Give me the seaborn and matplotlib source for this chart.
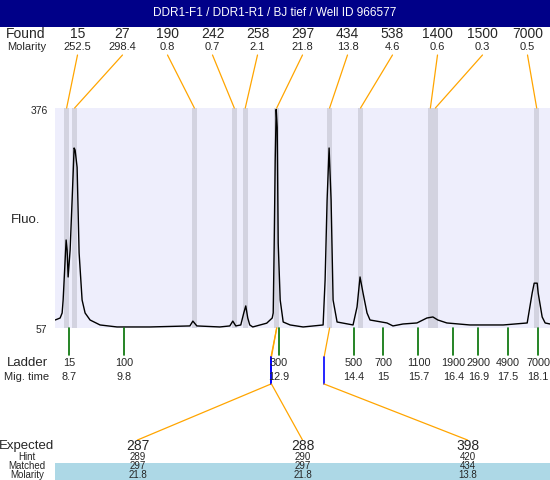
import pandas as pd
import seaborn as sns
import matplotlib.pyplot as plt

# Chart data
title = "DDR1-F1 / DDR1-R1 / BJ tief / Well ID 966577"

found_size = [15, 27, 190, 242, 258, 297, 434, 538, 1400, 1500, 7000]
found_molarity = ["252.5", "298.4", "0.8", "0.7", "2.1", "21.8", "13.8", "4.6", "0.6", "0.3", "0.5"]
found_time = [8.65, 8.81, 11.21, 12.01, 12.23, 12.86, 13.92, 14.54, 15.94, 16.04, 18.07]

ladder_size = [15, 100, 300, 500, 700, 1100, 1900, 2900, 4900, 7000]
ladder_time = [8.7, 9.8, 12.9, 14.4, 15, 15.7, 16.4, 16.9, 17.5, 18.1]

expected = [287, 288, 398]
expected_time = [12.745, 12.755, 13.81]
expected_hint = [289, 290, 420]
matched_size = [297, 297, 434]
matched_molarity = ["21.8", "21.8", "13.8"]

trace_time = [8.42, 8.52, 8.56, 8.58, 8.62, 8.64, 8.66, 8.68, 8.72, 8.76, 8.80, 8.82,
              8.86, 8.90, 8.96, 9.02, 9.12, 9.32, 9.66, 10.32, 11.12, 11.18, 11.26,
              11.72, 11.92, 11.98, 12.04, 12.14, 12.20, 12.24, 12.28, 12.32, 12.38,
              12.66, 12.77, 12.79, 12.81, 12.83, 12.85, 12.87, 12.89, 12.93, 12.99,
              13.13, 13.39, 13.79, 13.83, 13.87, 13.91, 13.95, 13.99, 14.07, 14.39,
              14.47, 14.53, 14.59, 14.67, 14.73, 15.07, 15.19, 15.39, 15.67, 15.87,
              15.99, 16.09, 16.27, 16.73, 17.40, 17.88, 17.98, 18.02, 18.08, 18.10,
              18.18, 18.24, 18.34]
trace_fluo = [68.6, 71.5, 78.8, 97.6, 155.6, 184.6, 170, 131, 170, 242.6, 318, 315,
              290, 166, 97.6, 78.8, 68.6, 61.4, 58.5, 58.5, 60, 67, 60,
              58.5, 60, 67, 60, 61.4, 78.8, 89, 71.5, 61.4, 58.5,
              64, 71.5, 78.8, 180, 300, 374, 348, 180, 97.6, 65.7,
              61.4, 58.5, 61.4, 126.6, 242.6, 318, 242.6, 97.6, 65.7, 61.4,
              87.5, 131, 107.8, 78.8, 68.6, 64.3, 60, 62.8, 64.3, 71.5,
              73, 68.6, 64.3, 61.4, 61.4, 64.3, 107.8, 122, 122, 107.8,
              73, 64.3, 62.8]

df = pd.DataFrame({"time": trace_time, "fluo": trace_fluo})

W, H = 550, 480
FONT = ["Liberation Sans", "DejaVu Sans"]
ORANGE = "#FFA500"

sns.set_theme(style="white")
plt.rcParams["font.family"] = FONT

fig = plt.figure(figsize=(W / 100, H / 100), dpi=100)
fig.patch.set_facecolor("white")

# plot area in pixel box (55..550, 108..328)
left, top, right, bottom = 55, 108, 550, 328
ax = fig.add_axes([left / W, 1 - bottom / H, (right - left) / W, (bottom - top) / H])
ax.set_facecolor("#EEEEFC")
for t in found_time:
    ax.axvspan(t - 0.05, t + 0.05, color="#D3D3E0", lw=0, zorder=1)
sns.lineplot(data=df, x="time", y="fluo", ax=ax, color="black", lw=1.0, zorder=3)
ax.set_xlim(8.417, 18.337)
ax.set_ylim(57, 376)
ax.set_xlabel("")
ax.set_ylabel("")
ax.set_xticks([])
ax.set_yticks([])
for s in ax.spines.values():
    s.set_visible(False)

# overlay in pixel coordinates
ov = fig.add_axes([0, 0, 1, 1])
ov.set_xlim(0, W)
ov.set_ylim(H, 0)
ov.axis("off")


def px(t):
    return ax.transData.transform((t, 57))[0]


# title bar
ov.add_patch(plt.Rectangle((0, 0), W, 27, color="#000088", lw=0))
ov.text(W / 2, 13.5, title, color="white", fontsize=8.5, ha="center", va="center")

# found row
ov.text(26, 34, "Found", fontsize=10, ha="center", va="center")
ov.text(27, 47, "Molarity", fontsize=8, ha="center", va="center")
col = (right - left) / len(found_size)
for i, (sz, mol, t) in enumerate(zip(found_size, found_molarity, found_time)):
    cx = left + col * (i + 0.5)
    ov.text(cx, 34, str(sz), fontsize=10, ha="center", va="center")
    ov.text(cx, 47, mol, fontsize=8, ha="center", va="center")
    ov.plot([cx, px(t)], [55, top], color=ORANGE, lw=0.9)

# y labels
ov.text(48, 111, "376", fontsize=7.5, ha="right", va="center")
ov.text(47, 330, "57", fontsize=7.5, ha="right", va="center")
ov.text(26, 220, "Fluo.", fontsize=9.5, ha="center", va="center")

# ladder
ov.text(27, 363, "Ladder", fontsize=9.5, ha="center", va="center")
ov.text(27, 377, "Mig. time", fontsize=8, ha="center", va="center")
for sz, t in zip(ladder_size, ladder_time):
    x = px(t)
    ov.plot([x, x], [bottom, 355], color="#007000", lw=1.2)
    ov.text(x, 363, str(sz), fontsize=7.8, ha="center", va="center")
    ov.text(x, 377, str(t), fontsize=7.8, ha="center", va="center")

# expected / matched
ov.text(27, 446, "Expected", fontsize=9.5, ha="center", va="center")
ov.text(27, 456.5, "Hint", fontsize=7, ha="center", va="center")
ov.add_patch(plt.Rectangle((left, 463), right - left, 17, color="#ADD8E6", lw=0))
ov.text(27, 466, "Matched", fontsize=7, ha="center", va="center")
ov.text(27, 475, "Molarity", fontsize=7, ha="center", va="center")
col3 = (right - left) / len(expected)
for i, (e, et, h, m, mm) in enumerate(zip(expected, expected_time, expected_hint,
                                          matched_size, matched_molarity)):
    cx = left + col3 * (i + 0.5)
    bx = px(et)
    mx = px(found_time[found_size.index(m)])
    ov.plot([mx, bx], [bottom, 357], color=ORANGE, lw=0.9)
    ov.plot([bx, bx], [357, 384], color="blue", lw=1.2)
    ov.plot([bx, cx], [384, 440], color=ORANGE, lw=0.9)
    ov.text(cx, 446, str(e), fontsize=10, ha="center", va="center")
    ov.text(cx, 456.5, str(h), fontsize=7, ha="center", va="center")
    ov.text(cx, 466, str(m), fontsize=7, ha="center", va="center")
    ov.text(cx, 475, mm, fontsize=7, ha="center", va="center")

fig.savefig("out.png", dpi=100)
